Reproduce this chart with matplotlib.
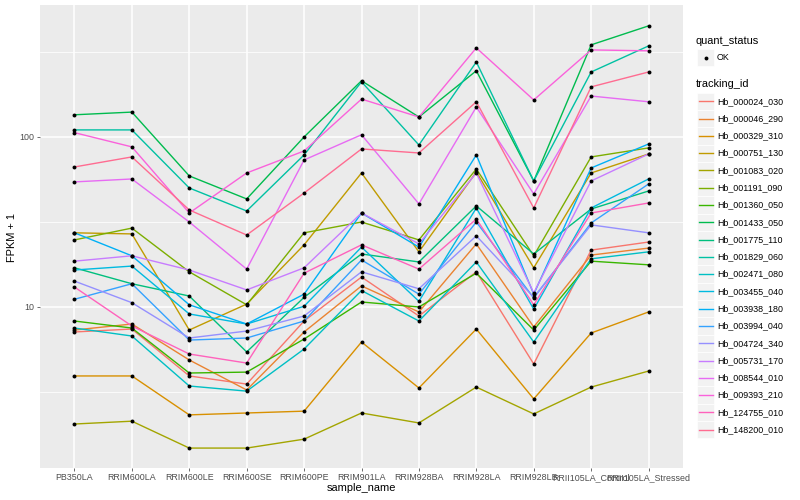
import matplotlib
matplotlib.use("Agg")
import matplotlib.pyplot as plt
import numpy as np
from matplotlib.patches import Rectangle
from matplotlib.ticker import FixedLocator, NullFormatter

plt.rcParams['font.family'] = ['Liberation Sans', 'DejaVu Sans']

samples = ["PB350LA", "RRIM600LA", "RRIM600LE", "RRIM600SE", "RRIM600PE",
           "RRIM901LA", "RRIM928BA", "RRIM928LA", "RRIM928LB",
           "RRII105LA_Control", "RRII105LA_Stressed"]

tracking_ids = ["Hb_000024_030", "Hb_000046_290", "Hb_000329_310", "Hb_000751_130",
                "Hb_001083_020", "Hb_001191_090", "Hb_001360_050", "Hb_001433_050",
                "Hb_001775_110", "Hb_001829_060", "Hb_002471_080", "Hb_003455_040",
                "Hb_003938_180", "Hb_003994_040", "Hb_004724_340", "Hb_005731_170",
                "Hb_008544_010", "Hb_009393_210", "Hb_124755_010", "Hb_148200_010"]

# FPKM + 1 per sample
hb_000024_030 = [7.13, 7.42, 3.93, 3.52, 8.27, 15.0, 8.85, 16.1, 4.62, 21.6, 24.1]
hb_000046_290 = [7.32, 7.94, 4.88, 3.25, 7.13, 13.3, 9.35, 23.5, 7.63, 20.2, 22.2]
hb_000329_310 = [3.93, 3.93, 2.32, 2.38, 2.44, 6.22, 3.34, 7.42, 2.88, 7.03, 9.35]
hb_000751_130 = [27.3, 26.9, 7.32, 10.4, 23.2, 61.4, 21.1, 62.2, 17.0, 61.4, 79.4]
hb_001083_020 = [2.05, 2.13, 1.48, 1.48, 1.67, 2.38, 2.08, 3.38, 2.35, 3.38, 4.20]
hb_001191_090 = [24.8, 29.1, 16.1, 10.3, 27.3, 31.6, 24.8, 64.8, 20.0, 76.3, 86.2]
hb_001360_050 = [8.27, 7.52, 4.09, 4.14, 6.48, 10.7, 10.0, 15.8, 7.32, 18.6, 17.7]
hb_001433_050 = [135, 140, 59.0, 43.2, 100, 214, 131, 245, 55.1, 348, 450]
hb_001775_110 = [17.0, 13.7, 11.6, 5.44, 11.4, 20.5, 18.4, 39.3, 20.5, 37.7, 48.1]
hb_001829_060 = [110, 110, 50.1, 36.7, 78.4, 211, 89.7, 276, 55.1, 241, 343]
hb_002471_080 = [7.52, 6.75, 3.43, 3.20, 5.66, 12.5, 8.27, 18.4, 6.22, 19.2, 21.1]
hb_003455_040 = [16.5, 17.4, 9.1, 7.94, 10.1, 22.5, 10.8, 38.2, 9.7, 38.2, 56.6]
hb_003938_180 = [27.3, 20.0, 10.3, 7.94, 11.9, 35.7, 22.5, 78.4, 11.9, 65.7, 90.9]
hb_003994_040 = [11.1, 13.7, 6.39, 6.57, 8.27, 18.9, 11.9, 31.6, 11.3, 31.2, 52.9]
hb_004724_340 = [14.2, 10.6, 6.57, 7.22, 8.85, 16.1, 12.8, 26.2, 11.4, 30.4, 27.3]
hb_005731_170 = [18.6, 20.0, 16.5, 12.6, 17.0, 35.7, 23.5, 61.4, 12.1, 55.1, 79.4]
hb_008544_010 = [54.4, 56.6, 31.6, 16.7, 73.2, 103, 40.4, 150, 46.2, 174, 161]
hb_009393_210 = [106, 87.4, 35.7, 61.4, 82.7, 167, 131, 334, 165, 325, 321]
hb_124755_010 = [13.1, 7.73, 5.29, 4.68, 15.8, 23.2, 16.7, 32.9, 10.3, 35.7, 40.9]
hb_148200_010 = [66.6, 76.3, 37.2, 26.5, 46.8, 85.0, 80.5, 161, 38.2, 197, 241]

series = [hb_000024_030, hb_000046_290, hb_000329_310, hb_000751_130, hb_001083_020,
          hb_001191_090, hb_001360_050, hb_001433_050, hb_001775_110, hb_001829_060,
          hb_002471_080, hb_003455_040, hb_003938_180, hb_003994_040, hb_004724_340,
          hb_005731_170, hb_008544_010, hb_009393_210, hb_124755_010, hb_148200_010]

colors = ["#F8766D", "#EA8331", "#D89000", "#C09B00", "#A3A500", "#7CAE00", "#39B600",
          "#00BB4E", "#00BF7D", "#00C1A3", "#00BFC4", "#00BAE0", "#00B0F6", "#35A2FF",
          "#9590FF", "#C77CFF", "#E76BF3", "#FA62DB", "#FF62BC", "#FF6C91"]

W, H = 800, 500
fig = plt.figure(figsize=(W / 100, H / 100), dpi=100)


def px(x0, y0, x1, y1):
    return [x0 / W, 1 - y1 / H, (x1 - x0) / W, (y1 - y0) / H]


ax = fig.add_axes(px(40, 5, 683, 468))
ax.set_facecolor('#EBEBEB')
x = np.arange(len(samples))
for vals, col in zip(series, colors):
    ax.plot(x, vals, color=col, lw=1.0, zorder=2, solid_capstyle='butt')
for vals in series:
    ax.scatter(x, vals, s=8, color='black', zorder=3, linewidths=0)

ax.set_yscale('log')
ax.set_ylim(1.13, 597)
ax.set_xlim(-0.6, len(samples) - 0.4)
ax.set_yticks([10, 100])
ax.set_yticklabels(['10', '100'])
ax.yaxis.set_minor_locator(FixedLocator([10 ** 0.5, 10 ** 1.5, 10 ** 2.5]))
ax.yaxis.set_minor_formatter(NullFormatter())
ax.set_xticks(x)
ax.set_xticklabels(samples)
ax.grid(which='major', color='white', lw=1.1)
ax.grid(which='minor', axis='y', color='white', lw=0.55)
ax.set_axisbelow(True)
for s in ax.spines.values():
    s.set_visible(False)
ax.tick_params(which='major', length=2.2, width=0.5, color='#333333',
               labelsize=6.4, labelcolor='#4D4D4D', pad=1.6)
ax.tick_params(which='minor', length=0)

fig.text(361 / W, 1 - 488 / H, 'sample_name', ha='center', va='center', fontsize=7.9)
fig.text(12 / W, 1 - 237 / H, 'FPKM + 1', ha='center', va='center', fontsize=7.9,
         rotation=90)

# legend
lg = fig.add_axes([0, 0, 1, 1], zorder=5)
lg.set_xlim(0, W)
lg.set_ylim(H, 0)
lg.axis('off')
lg.patch.set_alpha(0)

lg.text(696, 41, 'quant_status', ha='left', va='center', fontsize=7.9)
lg.add_patch(Rectangle((697, 49), 17.3, 17.3, facecolor='#F2F2F2', edgecolor='white', lw=0.5))
lg.plot([705.6], [57.6], 'o', color='black', ms=2.8, mec='none')
lg.text(717, 57.6, 'OK', ha='left', va='center', fontsize=6.4)

lg.text(696, 84, 'tracking_id', ha='left', va='center', fontsize=7.9)
for i, (tid, col) in enumerate(zip(tracking_ids, colors)):
    yc = 101.3 + i * 17.28
    lg.add_patch(Rectangle((697, yc - 8.64), 17.3, 17.28, facecolor='#F2F2F2',
                           edgecolor='white', lw=0.5))
    lg.plot([698.5, 712.8], [yc, yc], color=col, lw=1.0)
    lg.text(717, yc, tid, ha='left', va='center', fontsize=6.4)

fig.savefig('out.png', dpi=100)
